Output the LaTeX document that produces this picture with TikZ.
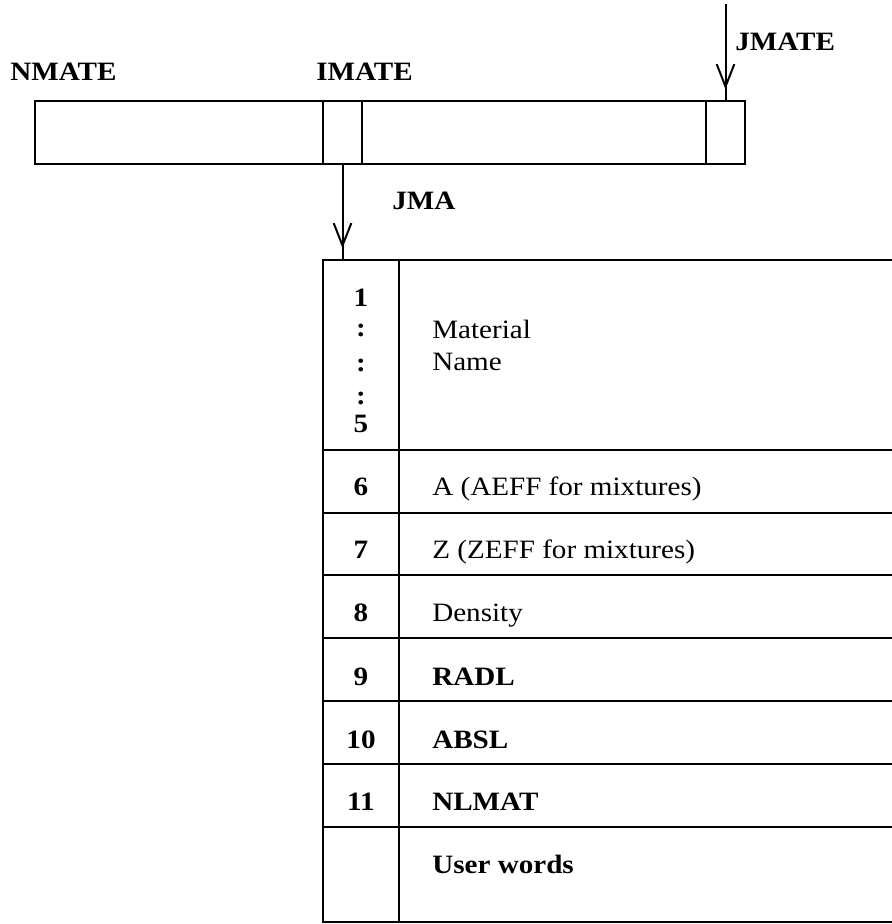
\documentclass[tikz,border=0pt]{standalone}
\usepackage{fontspec}
\setmainfont{Liberation Serif}
\usetikzlibrary{arrows.meta,decorations.markings}
\def\unitpx{0.85pt}
\tikzset{
  cell/.style 2 args={draw, line width=2.3pt, rectangle, inner sep=0pt, outer sep=0pt, anchor=north west,
    minimum width=#1*\unitpx, minimum height=#2*\unitpx},
  lbl/.style={font=\fontsize{22.5}{27}\selectfont\bfseries, xscale=1.1, transform shape, inner sep=0pt, anchor=base west},
  entry/.style={font=\fontsize{22.5}{27}\selectfont, xscale=1.1, transform shape, inner sep=0pt, anchor=base west},
  num/.style={font=\fontsize{22.5}{27}\selectfont\bfseries, xscale=1.1, transform shape, inner sep=0pt, anchor=base},
  ptr/.style={line width=1.7pt, postaction={decorate},
    decoration={markings, mark=at position -10pt with {\arrow{Straight Barb[length=19pt, width=15pt]}}}}
}

\begin{document}
\begin{tikzpicture}[x=\unitpx, y=-\unitpx]
  \clip (0,0) rectangle (892,924);

  % memory bank
  \node[cell={288}{63}] (nbar) at (35,101) {};
  \node[cell={39}{63}] (ibar) at (323,101) {};
  \node[cell={344}{63}] (mbar) at (362,101) {};
  \node[cell={39}{63}] (jbar) at (706,101) {};

  \node[lbl] (nmate) at (10,81) {NMATE};
  \node[lbl] (imate) at (316,81) {IMATE};
  \node[lbl] (jmate) at (735,51) {JMATE};
  \node[lbl] (jma) at (392,209) {JMA};

  % material record
  \foreach \top/\h [count=\r] in {260/190, 450/63, 513/62, 575/63, 638/63, 701/63, 764/63, 827/95} {
    \node[cell={76}{\h}] (idx\r) at (323,\top) {};
    \node[cell={540}{\h}] (txt\r) at (399,\top) {};
  }

  \foreach \t/\y [count=\k] in {1/306, :/336, :/371, :/404, 5/432}
    \node[num] (w\k) at (361,\y) {\t};
  \node[entry] (mat) at (432,338) {Material};
  \node[entry] (name) at (432,370) {Name};

  \node[num] (w6) at (361,495) {6};
  \node[entry] (aeff) at (432,495) {A (AEFF for mixtures)};
  \node[num] (w7) at (361,558) {7};
  \node[entry] (zeff) at (432,558) {Z (ZEFF for mixtures)};
  \node[num] (w8) at (361,621) {8};
  \node[entry] (dens) at (432,621) {Density};
  \node[num] (w9) at (361,685) {9};
  \node[lbl] (radl) at (432,685) {RADL};
  \node[num] (w10) at (361,748) {10};
  \node[lbl] (absl) at (432,748) {ABSL};
  \node[num] (w11) at (361,810) {11};
  \node[lbl] (nlmat) at (432,810) {NLMAT};
  \node[lbl] (user) at (432,873) {User words};

  % pointers
  \coordinate (jtop) at (725.5,4);
  \draw[ptr] (jtop) -- (jbar.north);
  \draw[ptr] (ibar.south) -- (ibar.south |- idx1.north);
\end{tikzpicture}
\end{document}
